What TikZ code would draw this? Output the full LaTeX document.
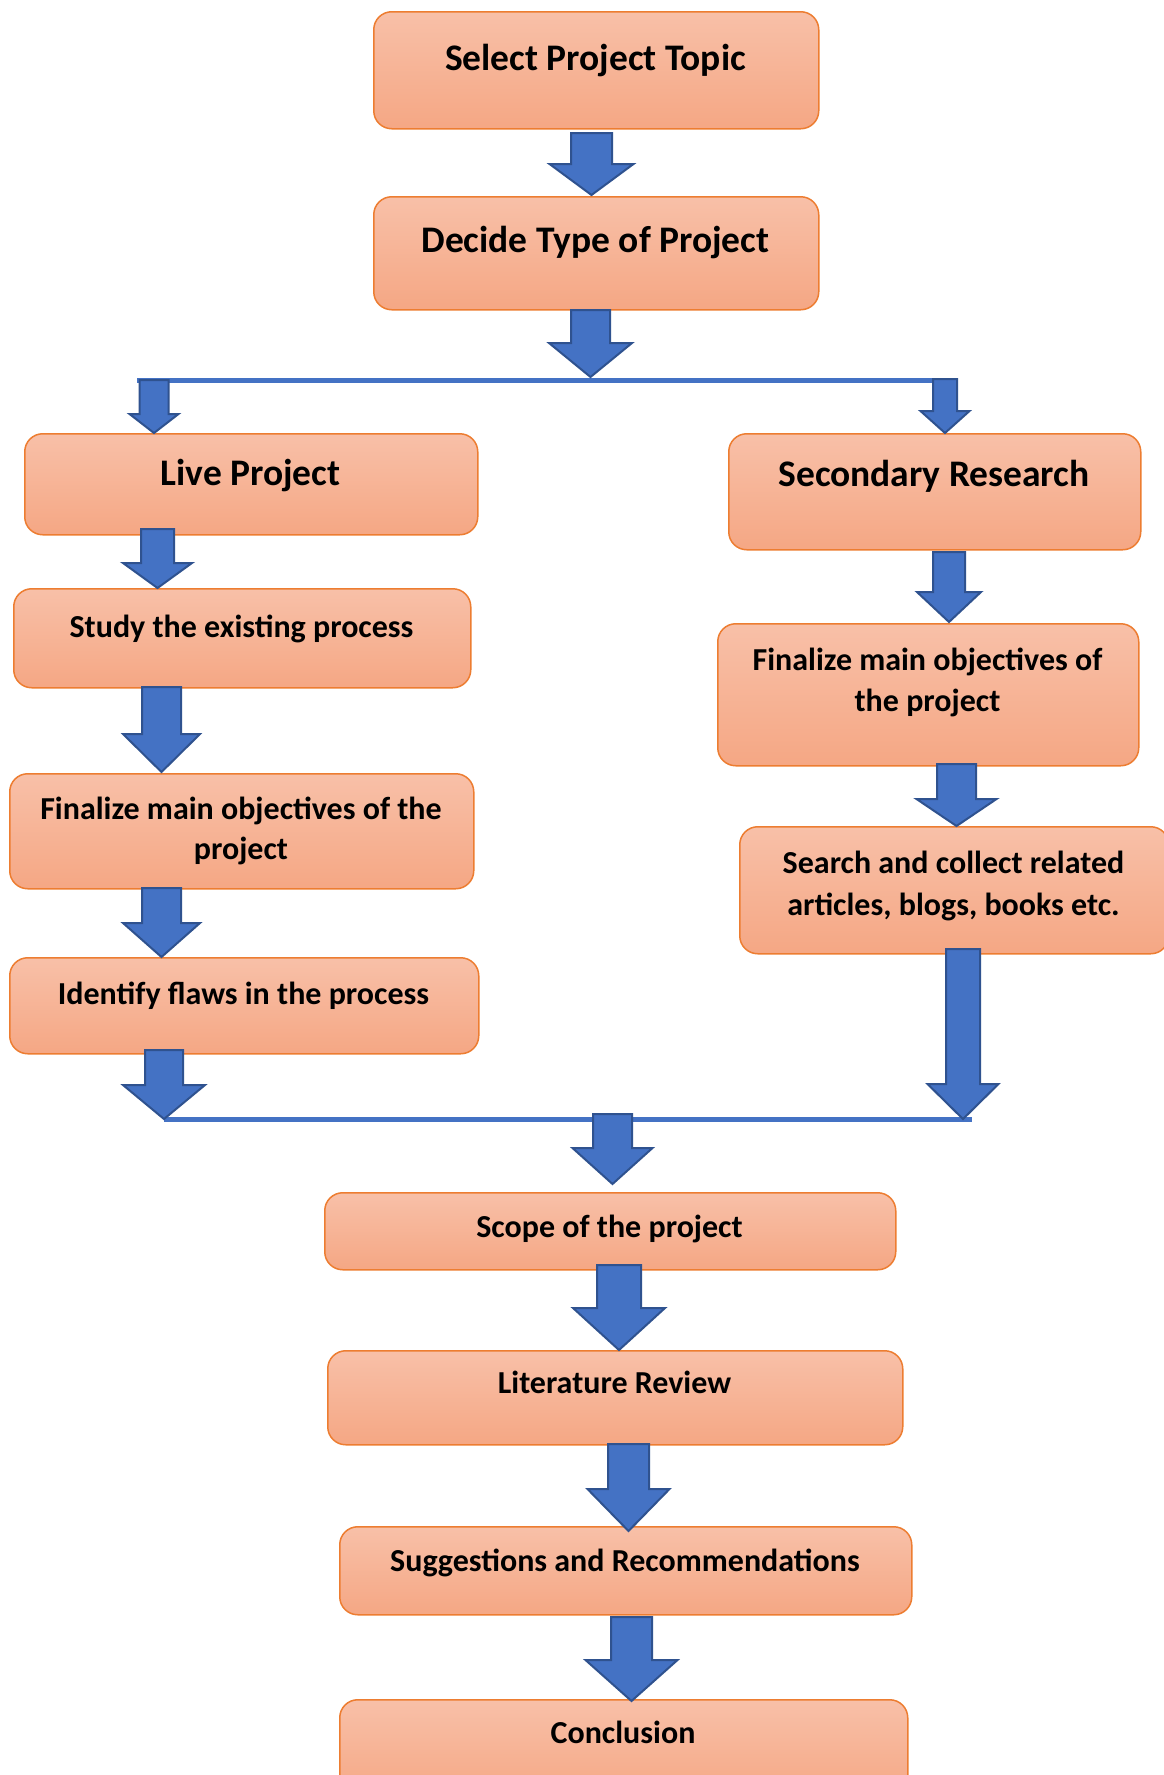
\documentclass[tikz,border=0pt]{standalone}
\usepackage{fontspec}
\setmainfont{Carlito}
\usetikzlibrary{positioning}
\definecolor{boxtop}{HTML}{F8C0A8}
\definecolor{boxbot}{HTML}{F5A784}
\definecolor{boxline}{HTML}{ED7D31}
\definecolor{arrowfill}{HTML}{4472C4}
\definecolor{arrowline}{HTML}{2F528F}
\tikzset{
  box/.style={rectangle, draw=boxline, line width=1.5pt, rounded corners=18pt,
    top color=boxtop, bottom color=boxbot, inner sep=0pt, anchor=north west},
  bigtxt/.style={font=\fontsize{37.5}{44}\selectfont\bfseries, anchor=base, inner sep=0pt},
  smalltxt/.style={font=\fontsize{32}{39.5}\selectfont\bfseries, anchor=base, inner sep=0pt},
  barrow/.style={fill=arrowfill, draw=arrowline, line width=2pt, line join=miter},
  hline/.style={draw=arrowfill, line width=5pt}
}
% cx, half shaft, half head, top, head start, tip
\newcommand{\blockarrow}[6]{%
  \draw[barrow] ({#1-#2},#4) -- ({#1+#2},#4) -- ({#1+#2},#5) -- ({#1+#3},#5)
    -- (#1,#6) -- ({#1-#3},#5) -- ({#1-#2},#5) -- cycle;}
\newcommand{\twolines}[3]{\begin{tabular}[t]{@{}c@{}}#1\\[#3]#2\end{tabular}}
\begin{document}
\begin{tikzpicture}[x=1pt,y=-1pt]
\useasboundingbox (0,0) rectangle (1164,1775);
\fill[white] (0,0) rectangle (1164,1775);

% boxes
\node[box, minimum width=445pt, minimum height=117pt] (sel) at (373,11) {};
\node[box, minimum width=445pt, minimum height=113pt] (dec) at (373,196) {};
\node[box, minimum width=453pt, minimum height=101pt] (live) at (24,433) {};
\node[box, minimum width=412pt, minimum height=116pt] (sec) at (728,433) {};
\node[box, minimum width=457pt, minimum height=99pt] (study) at (13,588) {};
\node[box, minimum width=464pt, minimum height=115pt] (finl) at (9,773) {};
\node[box, minimum width=469pt, minimum height=96pt] (ident) at (9,957) {};
\node[box, minimum width=421pt, minimum height=142pt] (finr) at (717,623) {};
\node[box, minimum width=429pt, minimum height=127pt] (search) at (739,826) {};
\node[box, minimum width=571pt, minimum height=77pt] (scope) at (324,1192) {};
\node[box, minimum width=575pt, minimum height=94pt] (lit) at (327,1350) {};
\node[box, minimum width=572pt, minimum height=88pt] (sugg) at (339,1526) {};
\node[box, minimum width=568pt, minimum height=100pt] (concl) at (339,1699) {};

% texts
\node[bigtxt] (selt) at (595.5,70) {Select Project Topic};
\node[bigtxt] (dect) at (595.5,252) {Decide Type of Project};
\node[bigtxt] (livet) at (250.5,485) {Live Project};
\node[bigtxt] (sect) at (934,486) {Secondary Research};
\node[smalltxt] (studyt) at (241.5,637) {Study the existing process};
\node[smalltxt] (finlt) at (241,819) {\twolines{Finalize main objectives of the}{project}{1pt}};
\node[smalltxt] (identt) at (243.5,1004) {Identify flaws in the process};
\node[smalltxt] (finrt) at (927.5,670) {\twolines{Finalize main objectives of}{the project}{2pt}};
\node[smalltxt] (searcht) at (953.5,873) {\twolines{Search and collect related}{articles, blogs, books etc.}{2.5pt}};
\node[smalltxt] (scopet) at (609.5,1237) {Scope of the project};
\node[smalltxt] (litt) at (614.5,1393) {Literature Review};
\node[smalltxt] (suggt) at (625,1571) {Suggestions and Recommendations};
\node[smalltxt] (conclt) at (623,1743) {Conclusion};

% split / join lines
\coordinate (splitL) at (137,380);
\coordinate (splitR) at (953,380);
\coordinate (joinL) at (164,1119);
\coordinate (joinR) at (972,1119);
\draw[hline] (splitL) -- (splitR);
\draw[hline] (joinL) -- (joinR);

% block arrows
\blockarrow{591.5}{20.5}{42}{133}{164}{195}
\blockarrow{590.5}{19.5}{41.5}{310}{343}{377}
\blockarrow{154}{14.5}{24.5}{380}{414}{433}
\blockarrow{945}{12}{24.5}{379}{411}{433}
\blockarrow{157.5}{16.5}{34.5}{529}{563}{588}
\blockarrow{161.5}{19.5}{38.5}{687}{734}{772}
\blockarrow{161.5}{19.5}{38.5}{888}{923}{957}
\blockarrow{164}{19}{41}{1050}{1085}{1119}
\blockarrow{949}{16}{32}{552}{592}{622}
\blockarrow{956.5}{19.5}{40}{764}{799}{826}
\blockarrow{963}{17}{35.5}{949}{1084}{1119}
\blockarrow{612.5}{19.5}{40}{1114}{1148}{1184}
\blockarrow{619}{22}{46}{1265}{1308}{1350}
\blockarrow{628.5}{20.5}{41}{1444}{1489}{1531}
\blockarrow{631.5}{20.5}{46}{1617}{1660}{1701}
\end{tikzpicture}
\end{document}
